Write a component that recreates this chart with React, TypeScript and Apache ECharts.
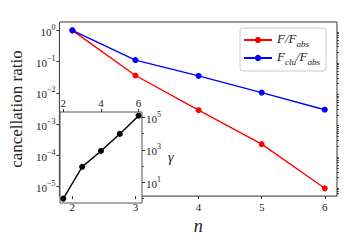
import React, { useEffect, useRef } from "react";
import * as echarts from "echarts";

const nValues = [2, 3, 4, 5, 6];
const ratioF = [1, 0.036, 0.0028, 0.00023, 8.9e-6];
const ratioClu = [1, 0.112, 0.035, 0.0102, 0.0029];
const gammaN = [2, 3, 4, 5, 6];
const gammaValues = [1.0, 91, 870, 9800, 1.3e5];
const mainXTicks = [2, 3, 4, 5, 6];
const mainYTicks = [1e-5, 1e-4, 1e-3, 1e-2, 1e-1, 1];
const insetXTicks = [2, 4, 6];
const insetYTicks = [10, 1e3, 1e5];
const insetYMinor = [1, 100, 1e4];
const legendNames = ["F/Fabs", "Fclu/Fabs"];

const FONT = "Liberation Serif";

function mainMinorTicks(): number[] {
  const out: number[] = [];
  for (let e = -6; e <= 0; e++) {
    for (let m = 2; m <= 9; m++) out.push(m * Math.pow(10, e));
  }
  return out;
}

function powLabel(v: number) {
  const e = Math.round(Math.log10(v));
  const s = e < 0 ? "\u2212" + Math.abs(e) : String(e);
  return "{b|10}{s|" + s + "}";
}

const powRich = {
  b: { fontFamily: FONT, fontSize: 11, color: "#222", lineHeight: 14, verticalAlign: "bottom" },
  s: { fontFamily: FONT, fontSize: 8, color: "#222", lineHeight: 14, verticalAlign: "top" },
};

export default function App() {
  const ref = useRef<HTMLDivElement>(null);
  useEffect(() => {
    if (!ref.current) return;
    const chart = echarts.init(ref.current, undefined, { renderer: "svg" });
    const minor = mainMinorTicks();
    const option: any = {
      animation: false,
      backgroundColor: "#fff",
      grid: [
        { left: 58, top: 22, width: 279, height: 181, show: true, borderColor: "#333", borderWidth: 1, backgroundColor: "transparent" },
        { left: 60, top: 112, width: 82, height: 91, show: true, borderColor: "#555", borderWidth: 1, backgroundColor: "#fff" },
      ],
      legend: {
        orient: "vertical",
        left: 240,
        top: 28,
        padding: [4, 6, 5, 3],
        itemGap: 2,
        itemWidth: 28,
        itemHeight: 8,
        borderColor: "#ccc",
        borderWidth: 1,
        borderRadius: 3,
        backgroundColor: "#fff",
        data: legendNames,
        formatter: (name: string) =>
          name === "F/Fabs" ? "{i|F/F}{sub|abs}" : "{i|F}{sub|clu}{i|/F}{sub|abs}",
        textStyle: {
          color: "#222",
          rich: {
            i: { fontFamily: FONT, fontStyle: "italic", fontSize: 13, color: "#222", lineHeight: 16, verticalAlign: "top" },
            sub: { fontFamily: FONT, fontStyle: "italic", fontSize: 9, color: "#222", lineHeight: 16, verticalAlign: "bottom" },
          },
        },
      },
      xAxis: [
        {
          type: "value",
          gridIndex: 0,
          min: 1.795,
          max: 6.194,
          name: "n",
          nameLocation: "middle",
          nameGap: 18,
          nameTextStyle: { fontFamily: FONT, fontStyle: "italic", fontSize: 18, color: "#222" },
          axisLine: { show: false },
          splitLine: { show: false },
          axisTick: { show: true, length: 3, lineStyle: { color: "#333" }, customValues: mainXTicks },
          axisLabel: { fontFamily: FONT, fontSize: 11, color: "#222", margin: 5, customValues: mainXTicks },
        },
        {
          type: "value",
          gridIndex: 1,
          position: "top",
          min: 1.824,
          max: 6.18,
          axisLine: { show: false },
          splitLine: { show: false },
          axisTick: { show: true, length: 3, lineStyle: { color: "#333" }, customValues: insetXTicks },
          axisLabel: { fontFamily: FONT, fontSize: 11, color: "#222", margin: 4, customValues: insetXTicks },
        },
      ],
      yAxis: [
        {
          type: "log",
          logBase: 10,
          gridIndex: 0,
          min: Math.pow(10, -5.3),
          max: Math.pow(10, 0.267),
          name: "cancellation ratio",
          nameLocation: "middle",
          nameGap: 31,
          nameRotate: 90,
          nameTextStyle: { fontFamily: FONT, fontSize: 17, color: "#222" },
          axisLine: { show: false },
          splitLine: { show: false },
          minorTick: { show: false },
          axisTick: { show: true, length: 3, lineStyle: { color: "#333" }, customValues: mainYTicks },
          axisLabel: { margin: 4, customValues: mainYTicks, formatter: powLabel, rich: powRich },
        },
        {
          type: "log",
          logBase: 10,
          gridIndex: 0,
          min: Math.pow(10, -5.3),
          max: Math.pow(10, 0.267),
          axisLine: { show: false },
          splitLine: { show: false },
          axisTick: { show: true, length: 1.8, lineStyle: { color: "#333" }, customValues: minor },
          axisLabel: { show: false },
        },
        {
          type: "log",
          logBase: 10,
          gridIndex: 1,
          position: "right",
          min: Math.pow(10, -0.27),
          max: Math.pow(10, 5.34),
          name: "\u03b3",
          nameLocation: "middle",
          nameRotate: 0,
          nameGap: 26,
          nameTextStyle: { fontFamily: FONT, fontStyle: "italic", fontSize: 14, color: "#222" },
          axisLine: { show: false, lineStyle: { color: "#222" } },
          splitLine: { show: false },
          axisTick: { show: true, length: 3, lineStyle: { color: "#333" }, customValues: insetYTicks },
          axisLabel: { margin: 4, customValues: insetYTicks, formatter: powLabel, rich: powRich },
        },
        {
          type: "log",
          logBase: 10,
          gridIndex: 1,
          position: "right",
          min: Math.pow(10, -0.27),
          max: Math.pow(10, 5.34),
          axisLine: { show: false },
          splitLine: { show: false },
          axisTick: { show: true, length: 1.8, lineStyle: { color: "#333" }, customValues: insetYMinor },
          axisLabel: { show: false },
        },
      ],
      series: [
        {
          name: "F/Fabs",
          type: "line",
          xAxisIndex: 0,
          yAxisIndex: 0,
          data: nValues.map((n, i) => [n, ratioF[i]]),
          symbol: "circle",
          symbolSize: 6,
          lineStyle: { color: "#ff0000", width: 1.4 },
          itemStyle: { color: "#ff0000" },
          z: 3,
        },
        {
          name: "Fclu/Fabs",
          type: "line",
          xAxisIndex: 0,
          yAxisIndex: 0,
          data: nValues.map((n, i) => [n, ratioClu[i]]),
          symbol: "circle",
          symbolSize: 6,
          lineStyle: { color: "#0000ff", width: 1.4 },
          itemStyle: { color: "#0000ff" },
          z: 3,
        },
        {
          name: "gamma",
          type: "line",
          xAxisIndex: 1,
          yAxisIndex: 2,
          data: gammaN.map((n, i) => [n, gammaValues[i]]),
          symbol: "circle",
          symbolSize: 6,
          lineStyle: { color: "#000", width: 1.4 },
          itemStyle: { color: "#000" },
          z: 4,
        },
      ],
    };
    chart.setOption(option);
    return () => chart.dispose();
  }, []);
  return <div ref={ref} style={{ width: 360, height: 240, position: "absolute", left: 0, top: 0 }} />;
}
